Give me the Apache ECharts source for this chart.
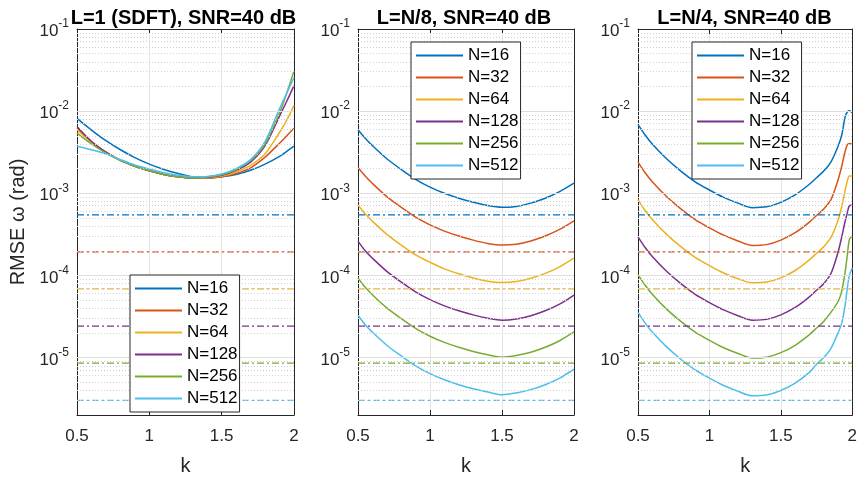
<!DOCTYPE html>
<html><head><meta charset="utf-8">
<script src="https://cdn.jsdelivr.net/npm/echarts@6/dist/echarts.min.js"></script>
<style>html,body{margin:0;padding:0;background:#fff}#c{width:860px;height:481px}</style>
</head><body><div id="c"></div>
<script>
// ---------- data ----------
const TITLES = ['L=1 (SDFT), SNR=40 dB', 'L=N/8, SNR=40 dB', 'L=N/4, SNR=40 dB'];
const N_NAMES = ['N=16', 'N=32', 'N=64', 'N=128', 'N=256', 'N=512'];
const X_TICKS = [0.5, 1, 1.5, 2];
const Y_TICK_EXP = [-5, -4, -3, -2, -1];      // tick labels 10^-5 ... 10^-1
const Y_RANGE = [2e-6, 0.1];
// dash-dot reference levels (rad), same in all panels
const CRLB = [5.47e-4, 1.94e-4, 6.85e-5, 2.42e-5, 8.55e-6, 3.02e-6];

// k samples per panel
const K_SDFT = [0.5,0.6,0.7,0.8,0.9,1.0,1.1,1.2,1.3,1.4,1.5,1.6,1.7,1.8,1.9,1.95,2.0];
const K_N8   = [0.5,0.55,0.6,0.7,0.8,0.9,1.0,1.1,1.2,1.3,1.4,1.5,1.6,1.7,1.8,1.9,2.0];
const K_N4   = [0.5,0.55,0.6,0.7,0.8,0.9,1.0,1.1,1.2,1.3,1.4,1.5,1.6,1.7,1.75,1.8,1.85,1.9,1.925,1.95,1.965,1.98,2.0];

// RMSE values, stored as log10(RMSE in rad)
const sdft_N16  = [-2.088,-2.23,-2.36,-2.47,-2.565,-2.645,-2.71,-2.76,-2.80,-2.815,-2.80,-2.77,-2.72,-2.645,-2.55,-2.49,-2.427];
const sdft_N32  = [-2.208,-2.37,-2.50,-2.60,-2.67,-2.725,-2.77,-2.80,-2.815,-2.815,-2.80,-2.76,-2.69,-2.56,-2.39,-2.30,-2.208];
const sdft_N64  = [-2.227,-2.38,-2.50,-2.60,-2.67,-2.725,-2.77,-2.80,-2.815,-2.81,-2.79,-2.74,-2.66,-2.52,-2.26,-2.11,-1.93];
const sdft_N128 = [-2.188,-2.37,-2.50,-2.60,-2.67,-2.725,-2.77,-2.80,-2.815,-2.805,-2.78,-2.72,-2.62,-2.42,-2.06,-1.88,-1.69];
const sdft_N256 = [-2.268,-2.40,-2.51,-2.60,-2.67,-2.725,-2.77,-2.80,-2.815,-2.80,-2.775,-2.71,-2.60,-2.40,-2.02,-1.78,-1.51];
const sdft_N512 = [-2.427,-2.47,-2.52,-2.59,-2.655,-2.705,-2.75,-2.78,-2.80,-2.795,-2.765,-2.70,-2.59,-2.37,-1.97,-1.78,-1.59];

const n8_N16  = [-2.227,-2.33,-2.42,-2.58,-2.71,-2.83,-2.925,-3.00,-3.06,-3.11,-3.15,-3.171,-3.16,-3.12,-3.06,-2.98,-2.877];
const n8_N32  = [-2.686,-2.79,-2.88,-3.04,-3.17,-3.29,-3.385,-3.46,-3.52,-3.57,-3.61,-3.63,-3.62,-3.58,-3.52,-3.44,-3.335];
const n8_N64  = [-3.143,-3.25,-3.34,-3.50,-3.63,-3.75,-3.84,-3.92,-3.98,-4.03,-4.07,-4.087,-4.075,-4.035,-3.975,-3.895,-3.79];
const n8_N128 = [-3.582,-3.70,-3.79,-3.95,-4.08,-4.20,-4.295,-4.37,-4.43,-4.48,-4.52,-4.545,-4.53,-4.49,-4.43,-4.35,-4.239];
const n8_N256 = [-4.031,-4.145,-4.235,-4.395,-4.525,-4.645,-4.74,-4.815,-4.875,-4.925,-4.965,-4.995,-4.975,-4.935,-4.875,-4.795,-4.688];
const n8_N512 = [-4.485,-4.60,-4.69,-4.85,-4.98,-5.10,-5.195,-5.27,-5.33,-5.38,-5.42,-5.453,-5.43,-5.39,-5.33,-5.25,-5.142];

const n4_N16  = [-2.16,-2.29,-2.40,-2.58,-2.73,-2.86,-2.96,-3.05,-3.12,-3.175,-3.165,-3.11,-3.02,-2.89,-2.81,-2.73,-2.62,-2.43,-2.30,-2.07,-2.01,-1.996,-2.02];
const n4_N32  = [-2.62,-2.75,-2.86,-3.04,-3.19,-3.32,-3.42,-3.51,-3.58,-3.635,-3.625,-3.57,-3.48,-3.35,-3.27,-3.19,-3.08,-2.84,-2.68,-2.49,-2.41,-2.395,-2.405];
const n4_N64  = [-3.076,-3.21,-3.32,-3.50,-3.65,-3.78,-3.88,-3.97,-4.04,-4.09,-4.08,-4.03,-3.94,-3.81,-3.73,-3.65,-3.54,-3.33,-3.17,-2.97,-2.85,-2.79,-2.79];
const n4_N128 = [-3.53,-3.66,-3.77,-3.95,-4.10,-4.23,-4.33,-4.42,-4.49,-4.545,-4.535,-4.48,-4.39,-4.26,-4.18,-4.10,-3.98,-3.72,-3.54,-3.34,-3.24,-3.15,-3.145];
const n4_N256 = [-3.99,-4.12,-4.23,-4.41,-4.56,-4.69,-4.79,-4.88,-4.95,-5.005,-4.995,-4.94,-4.85,-4.72,-4.64,-4.56,-4.45,-4.32,-4.20,-3.96,-3.76,-3.56,-3.52];
const n4_N512 = [-4.45,-4.58,-4.69,-4.87,-5.02,-5.15,-5.25,-5.34,-5.41,-5.465,-5.455,-5.40,-5.31,-5.18,-5.08,-5.00,-4.89,-4.70,-4.59,-4.36,-4.16,-4.00,-3.91];

// ---------- style / layout ----------
const COLORS = ['#0072BD', '#D95319', '#EDB120', '#7E2F8E', '#77AC30', '#4DBEEE'];
const FONT = '"Liberation Sans", Arial, Helvetica, sans-serif';
const AX = '#262626';
const GRID_TOP = 29, GRID_H = 394;

const panels = [
  {left: 77,  width: 217, k: K_SDFT, curves: [sdft_N16, sdft_N32, sdft_N64, sdft_N128, sdft_N256, sdft_N512], lg: {left: 130, top: 275}},
  {left: 358, width: 216, k: K_N8,   curves: [n8_N16, n8_N32, n8_N64, n8_N128, n8_N256, n8_N512], lg: {left: 411, top: 42}},
  {left: 638, width: 217, k: K_N4,   curves: [n4_N16, n4_N32, n4_N64, n4_N128, n4_N256, n4_N512], lg: {left: 692, top: 42}}
];

const yMin = Math.log10(Y_RANGE[0]), yMax = Math.log10(Y_RANGE[1]);
const xMin = X_TICKS[0], xMax = X_TICKS[X_TICKS.length - 1];

const option = {animation: false, backgroundColor: '#fff', title: [], grid: [], xAxis: [], yAxis: [], legend: [], series: []};

panels.forEach((p, i) => {
  option.grid.push({left: p.left, top: GRID_TOP, width: p.width, height: GRID_H, containLabel: false});
  option.title.push({text: TITLES[i], left: p.left + p.width / 2 - 2, top: 8, padding: 0, textAlign: 'center',
    textStyle: {fontFamily: FONT, fontSize: 20, fontWeight: 'bold', color: '#000'}});
  const axisLine = {show: true, onZero: false, lineStyle: {color: AX, width: 1}};
  const tick = {show: true, inside: true, length: 5, lineStyle: {color: AX, width: 1}};
  option.xAxis.push({type: 'value', gridIndex: i, min: xMin, max: xMax, interval: 0.5, position: 'bottom',
    axisLine, axisTick: tick,
    axisLabel: {color: AX, fontSize: 17, fontFamily: FONT, margin: 13},
    splitLine: {show: true, lineStyle: {color: '#e3e3e3', width: 1}},
    name: 'k', nameLocation: 'middle', nameGap: 41,
    nameTextStyle: {color: AX, fontSize: 20, fontFamily: FONT}});
  option.xAxis.push({type: 'value', gridIndex: i, min: xMin, max: xMax, interval: 0.5, position: 'top',
    axisLine, axisTick: tick, axisLabel: {show: false}, splitLine: {show: false}});
  option.yAxis.push({type: 'value', gridIndex: i, min: yMin, max: yMax, position: 'left',
    axisLine, axisTick: Object.assign({}, tick, {customValues: Y_TICK_EXP}),
    axisLabel: {customValues: Y_TICK_EXP, margin: 8, padding: [5, 0, 0, 0],
      formatter: v => '{b|10}{s|' + Math.round(v) + '}',
      rich: {
        b: {fontSize: 17, fontFamily: FONT, color: AX, lineHeight: 17, verticalAlign: 'bottom'},
        s: {fontSize: 12, fontFamily: FONT, color: AX, lineHeight: 12, padding: [0, 0, 10, 0], verticalAlign: 'bottom'}
      }},
    splitLine: {show: false},
    name: i === 0 ? 'RMSE ω (rad)' : '', nameLocation: 'middle', nameGap: 49, nameRotate: 90,
    nameTextStyle: {color: AX, fontSize: 20, fontFamily: FONT}});
  option.yAxis.push({type: 'value', gridIndex: i, min: yMin, max: yMax, position: 'right',
    axisLine, axisTick: Object.assign({}, tick, {customValues: Y_TICK_EXP}),
    axisLabel: {show: false}, splitLine: {show: false}});

  // log grid lines (major solid, minor dotted)
  const gl = [];
  for (let e = Math.floor(yMin); e < yMax; e++) {
    for (let m = 1; m <= 9; m++) {
      const v = e + Math.log10(m);
      if (v > yMin + 1e-6 && v < yMax - 1e-6) {
        gl.push({yAxis: v, lineStyle: m === 1 ? {color: '#dedede', type: 'solid', width: 1} : {color: '#d2d2d2', type: [1, 2], width: 1}});
      }
    }
  }
  option.series.push({type: 'line', name: 'grid' + i, xAxisIndex: 2 * i, yAxisIndex: 2 * i, data: [], silent: true, z: 1,
    markLine: {silent: true, symbol: ['none', 'none'], label: {show: false}, animation: false, data: gl}});

  p.curves.forEach((c, j) => {
    option.series.push({type: 'line', name: N_NAMES[j], xAxisIndex: 2 * i, yAxisIndex: 2 * i,
      data: p.k.map((k, idx) => [k, c[idx]]), showSymbol: false, smooth: 0.3, z: 3,
      lineStyle: {color: COLORS[j], width: 1.5}, itemStyle: {color: COLORS[j]}});
  });
  CRLB.forEach((c, j) => {
    option.series.push({type: 'line', name: 'CRLB ' + N_NAMES[j], xAxisIndex: 2 * i, yAxisIndex: 2 * i,
      data: [[p.k[0], Math.log10(c)], [p.k[p.k.length - 1], Math.log10(c)]], showSymbol: false, z: 3, silent: true,
      lineStyle: {color: COLORS[j], width: 1.2, type: [7, 3, 2, 3]}, itemStyle: {color: COLORS[j]}});
  });

  option.legend.push({data: N_NAMES, orient: 'vertical', left: p.lg.left, top: p.lg.top, icon: 'rect',
    itemWidth: 47, itemHeight: 2, itemGap: 5, padding: [5, 2, 5, 5], backgroundColor: '#fff',
    borderColor: AX, borderWidth: 1, borderRadius: 0, selectedMode: false, z: 10,
    textStyle: {fontSize: 17, lineHeight: 17, color: '#000', fontFamily: FONT}});
});

const chart = echarts.init(document.getElementById('c'), null, {renderer: 'canvas'});
chart.setOption(option);
</script>
</body></html>
